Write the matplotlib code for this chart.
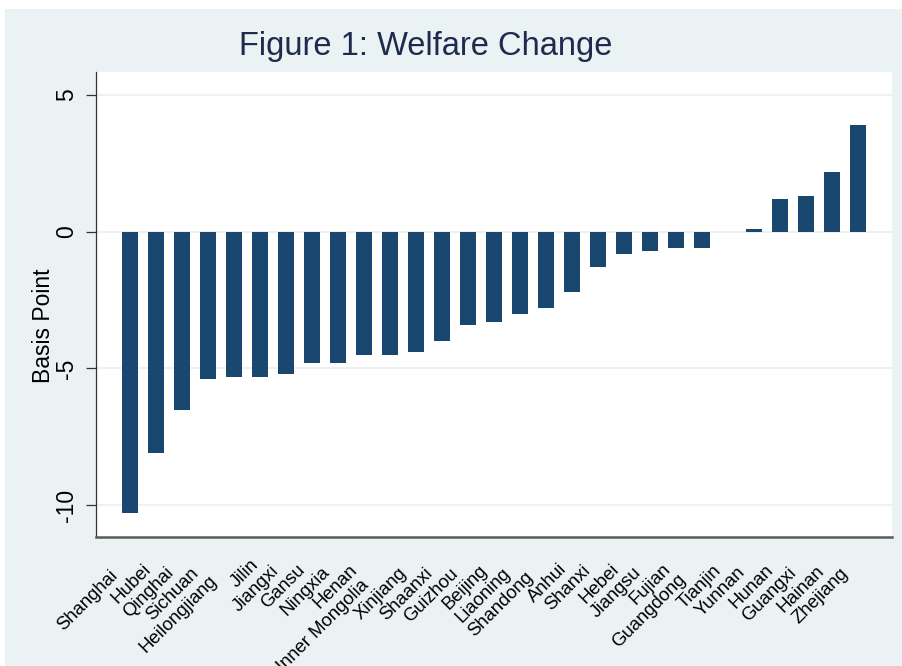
#!/usr/bin/python3
# coding: utf-8

'''
Welfare change by province, Stata-like bar chart
'''

import matplotlib
matplotlib.use('Agg')
import matplotlib.pyplot as plt
import matplotlib.transforms as mtransforms
from matplotlib.font_manager import FontProperties
from matplotlib.patches import Rectangle
import numpy as np

provinces = ['Shanghai', 'Hubei', 'Qinghai', 'Sichuan', 'Heilongjiang', 'Jilin',
             'Jiangxi', 'Gansu', 'Ningxia', 'Henan', 'Inner Mongolia', 'Xinjiang',
             'Shaanxi', 'Guizhou', 'Beijing', 'Liaoning', 'Shandong', 'Anhui',
             'Shanxi', 'Hebei', 'Jiangsu', 'Fujian', 'Guangdong', 'Tianjin',
             'Yunnan', 'Hunan', 'Guangxi', 'Hainan', 'Zhejiang']
welfare_change = [-10.3, -8.1, -6.5, -5.4, -5.3, -5.3,
                  -5.2, -4.8, -4.8, -4.5, -4.5, -4.4,
                  -4.0, -3.4, -3.3, -3.0, -2.8, -2.2,
                  -1.3, -0.8, -0.7, -0.6, -0.6, 0.0,
                  0.1, 1.2, 1.3, 2.2, 3.9]
yticks = [5, 0, -5, -10]

bar_color = '#1a476f'
bg_color = '#eaf2f3'
title_color = '#1e2b4f'

plt.rcParams['font.family'] = ['Liberation Sans', 'DejaVu Sans']

W, H = 902, 666
fig = plt.figure(figsize=(W / 100, H / 100), dpi=100, facecolor='white')
# light graph region, the picture is cropped with a thin white margin top/left
fig.patches.append(Rectangle((5 / W, 0), 1, 1 - 9 / H, transform=fig.transFigure,
                             facecolor=bg_color, edgecolor='none', zorder=-5))

left, right, top, bottom = 96, 892, 72.3, 536.7
ax = fig.add_axes([left / W, 1 - bottom / H, (right - left) / W, (bottom - top) / H])
ax.set_zorder(1)
ax.set_facecolor('white')

x = np.arange(len(provinces))
ax.bar(x, welfare_change, width=0.62, color=bar_color, zorder=3)
ax.set_xlim(-1.3, 29.32)
ax.set_ylim(-11.15, 5.83)

ax.set_yticks(yticks)
ax.set_yticklabels([str(v) for v in yticks], rotation=90, va='center')
ax.tick_params(axis='y', length=7.2, width=0.9, color='#333333', pad=6,
               labelsize=16.5, labelcolor='black')
ax.grid(axis='y', color=bg_color, lw=1.5, zorder=0)
ax.set_xticks([])

for side in ('top', 'right'):
    ax.spines[side].set_visible(False)
ax.spines['left'].set_color('#333333')
ax.spines['left'].set_linewidth(0.9)
ax.spines['bottom'].set_color('#5a5a5a')
ax.spines['bottom'].set_linewidth(1.8)

ax.set_ylabel('Basis Point', fontsize=16.5)
ax.yaxis.set_label_coords(-0.051, 0.455)

fig.text(426 / W, 1 - 47 / H, 'Figure 1: Welfare Change', ha='center', va='center',
         fontsize=23.5, color=title_color)

# 45 degree labels; longer names slide further down-left like the original
label_font = FontProperties(family='Liberation Sans', size=13.3)
renderer = fig.canvas.get_renderer()
for xi, name in zip(x, provinces):
    w, h, d = renderer.get_text_width_height_descent(name, label_font, ismath=False)
    shift = 0.22 * w + 3
    trans = mtransforms.offset_copy(ax.get_xaxis_transform(), fig=fig,
                                    x=-shift, y=-10 - shift, units='dots')
    ax.text(xi, 0, name, transform=trans, rotation=45, rotation_mode='anchor',
            ha='right', va='top', fontproperties=label_font, color='black',
            clip_on=False)

plt.savefig('out.png', dpi=100, facecolor=fig.get_facecolor())
